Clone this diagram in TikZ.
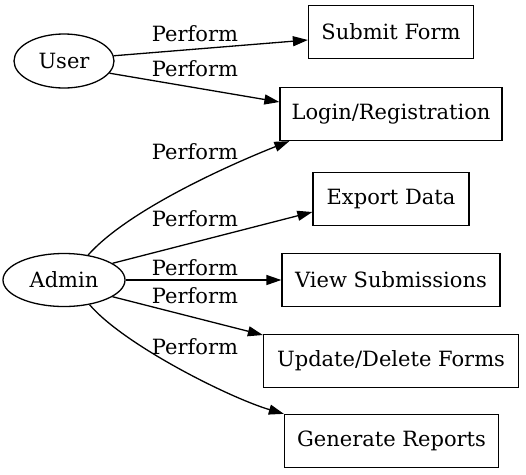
\documentclass[tikz,border=0pt]{standalone}
\usepackage{fontspec}
\setmainfont{DejaVu Serif}
\usetikzlibrary{arrows.meta,shapes.geometric,calc}
\tikzset{
  actor/.style={ellipse,draw,line width=1.3pt,inner sep=0pt,font=\fontsize{21}{24}\selectfont},
  usecase/.style={rectangle,draw,line width=1.3pt,inner sep=0pt,minimum height=53pt,font=\fontsize{21}{24}\selectfont},
  lbl/.style={inner sep=0pt,font=\fontsize{21}{24}\selectfont},
  conn/.style={line width=1.3pt,-{Triangle[length=15pt,width=10pt]}}
}
\begin{document}
\begin{tikzpicture}[x=1pt,y=-1pt]
\useasboundingbox (0,0) rectangle (526,474);
\node[actor,minimum width=100pt,minimum height=54pt] (user) at (64,61) {User};
\node[actor,minimum width=122pt,minimum height=53pt] (admin) at (64,280) {Admin};
\node[usecase,minimum width=165pt] (submit) at (391,32) {Submit Form};
\node[usecase,minimum width=222pt] (login) at (391,114) {Login/Registration};
\node[usecase,minimum width=156pt] (export) at (391,199) {Export Data};
\node[usecase,minimum width=218pt] (view) at (391,280) {View Submissions};
\node[usecase,minimum width=255pt] (update) at (391,361) {Update/Delete Forms};
\node[usecase,minimum width=214pt] (report) at (391.5,441) {Generate Reports};
\node[lbl] (l1) at (195,34) {Perform};
\node[lbl] (l2) at (195,69) {Perform};
\node[lbl] (l3) at (195,152) {Perform};
\node[lbl] (l4) at (195,219) {Perform};
\node[lbl] (l5) at (195,268) {Perform};
\node[lbl] (l6) at (195,296) {Perform};
\node[lbl] (l7) at (195,347) {Perform};
\draw[conn] (user.6) -- ([yshift=-8pt]submit.west);
\draw[conn] (user.-15) -- ([yshift=12pt]login.west);
\draw[conn] (admin.46) .. controls (129,209) and (234,163) .. ([xshift=10pt]login.south west);
\draw[conn] (admin.19) -- ([yshift=-13pt]export.west);
\draw[conn] (admin.east) -- (view.west);
\draw[conn] (admin.-19) -- ([yshift=26pt]update.west);
\draw[conn] (admin.-44) .. controls (124,345) and (230,398) .. (report.north west);
\end{tikzpicture}
\end{document}
